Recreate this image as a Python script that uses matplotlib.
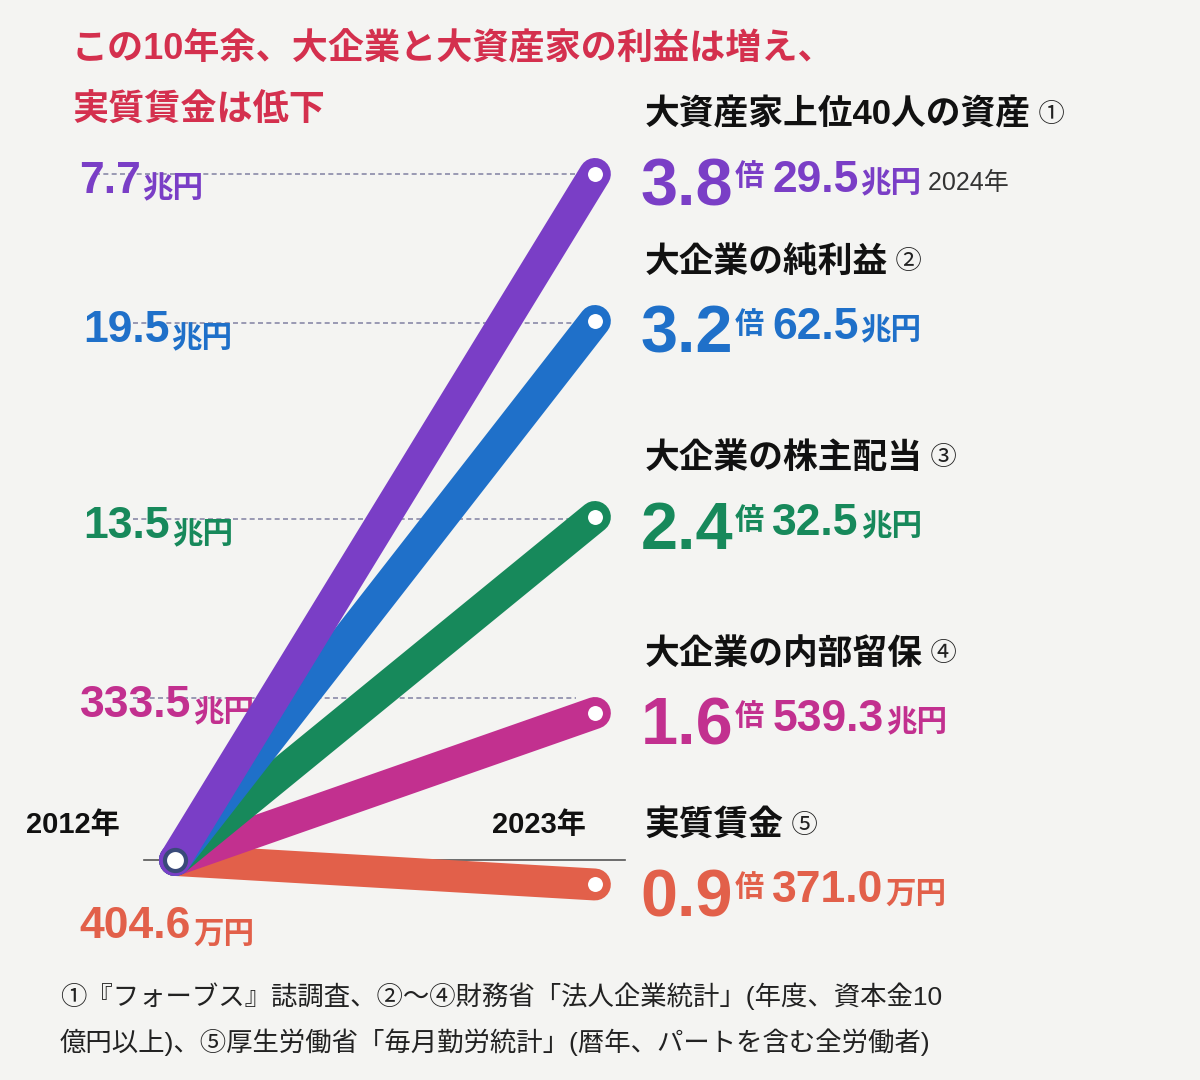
import matplotlib
matplotlib.use("Agg")
import matplotlib.pyplot as plt

plt.rcParams['font.family'] = ['Liberation Sans', 'Noto Sans CJK JP', 'DejaVu Sans']

names = ["大資産家上位40人の資産", "大企業の純利益", "大企業の株主配当", "大企業の内部留保", "実質賃金"]
marks = ["①", "②", "③", "④", "⑤"]
ratios = [3.8, 3.2, 2.4, 1.6, 0.9]
start_vals = ["7.7", "19.5", "13.5", "333.5", "404.6"]
end_vals = ["29.5", "62.5", "32.5", "539.3", "371.0"]
units = ["兆円", "兆円", "兆円", "兆円", "万円"]
colors = ["#7a3ec6", "#1f70c9", "#17895b", "#c2308f", "#e2604a"]
years = [2012, 2023]

fig = plt.figure(figsize=(12, 10.8), dpi=100)
fig.patch.set_facecolor("#f4f4f2")
ax = fig.add_axes([0, 0, 1, 1])
ax.set_facecolor("#f4f4f2")
ax.set_xlim(2007.417, 2038.85)
ax.set_ylim(0.102, 4.510)
ax.axis("off")

# dashed guides from left labels
guide = [(2009.9, 3.8), (2010.9, 3.19), (2010.9, 2.39), (2010.9, 1.66)]
for (x0, y), c in zip(guide, colors):
    ax.plot([x0, 2022.5], [y, y], ls=(0, (3, 2)), color="#8a8aa8", lw=1.2, zorder=1)
ax.plot([2011.2, 2023.8], [1.0, 1.0], color="#555", lw=1.2, zorder=1)

for i in range(4, -1, -1):
    ax.plot(years, [1.0, ratios[i]], color=colors[i], lw=23, solid_capstyle="round", zorder=2 + (4 - i))
    ax.scatter([2023], [ratios[i]], s=190, facecolor="white", edgecolor=colors[i], lw=3, zorder=10)
ax.scatter([2012], [1.0], s=230, facecolor="white", edgecolor="#3a4a7a", lw=3, zorder=11)

# left labels
left_pos = [(2009.5, 3.77), (2009.6, 3.16), (2009.6, 2.36), (2009.5, 1.63), (2009.5, 0.73)]
for (x, y), v, u, c in zip(left_pos, start_vals, units, colors):
    t = ax.text(x, y, v, color=c, fontsize=32, fontweight="bold", va="center", ha="left")
    ax.annotate(u, xycoords=t, xy=(1.02, 0.3), fontsize=22, fontweight="bold", color=c, va="center")

ax.text(2008.1, 1.11, "2012年", fontsize=21, fontweight="bold", color="#111")
ax.text(2020.3, 1.11, "2023年", fontsize=21, fontweight="bold", color="#111")

# right labels
for i in range(5):
    y = ratios[i]
    h = ax.text(2024.3, y + 0.24, names[i], fontsize=25, fontweight="bold", color="#111", va="center")
    ax.annotate(" " + marks[i], xycoords=h, xy=(1, 0.5), fontsize=19, color="#222", va="center")
    r = ax.text(2024.2, y - 0.06, f"{ratios[i]:.1f}", fontsize=48, fontweight="bold", color=colors[i], va="center")
    b = ax.annotate("倍 ", xycoords=r, xy=(1.02, 0.68), fontsize=21, fontweight="bold", color=colors[i], va="center")
    v = ax.annotate(end_vals[i], xycoords=b, xy=(1, 0.4), fontsize=32, fontweight="bold", color=colors[i], va="center")
    u = ax.annotate(units[i], xycoords=v, xy=(1.02, 0.4), fontsize=22, fontweight="bold", color=colors[i], va="center")
    if i == 0:
        ax.annotate(" 2024年", xycoords=u, xy=(1, 0.55), fontsize=18, color="#333", va="center")

fig.text(0.06, 0.955, "この10年余、大企業と大資産家の利益は増え、", fontsize=26, fontweight="bold", color="#d4304e", va="center")
fig.text(0.06, 0.897, "実質賃金は低下", fontsize=26, fontweight="bold", color="#d4304e", va="center")

fig.text(0.05, 0.078, "①『フォーブス』誌調査、②～④財務省「法人企業統計」(年度、資本金10", fontsize=19, color="#222", va="center")
fig.text(0.05, 0.035, "億円以上)、⑤厚生労働省「毎月勤労統計」(暦年、パートを含む全労働者)", fontsize=19, color="#222", va="center")

fig.savefig("out.png", dpi=100, facecolor=fig.get_facecolor())
